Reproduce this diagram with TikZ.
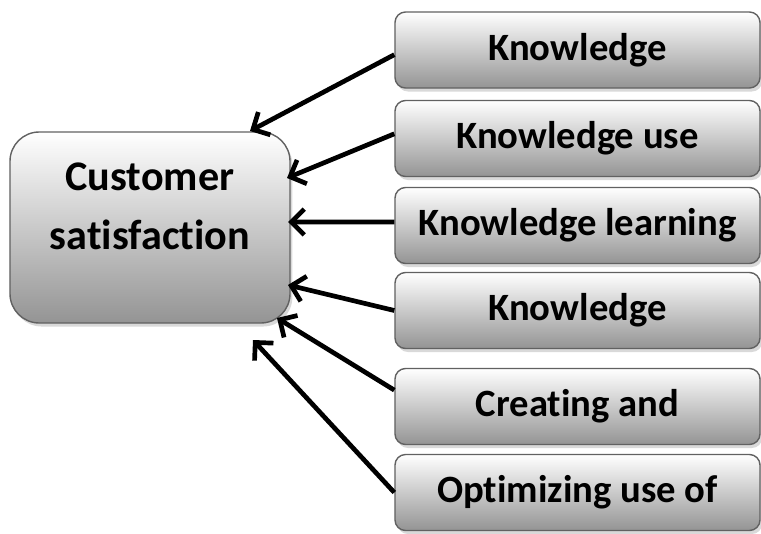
\documentclass[tikz,border=0pt]{standalone}
\usepackage{fontspec}
\setmainfont[Ligatures=NoCommon]{Carlito}
\usetikzlibrary{arrows.meta,shadows}

\begin{document}
\begin{tikzpicture}[x=0.03cm,y=-0.03cm]
\tikzstyle{every node}+=[inner sep=0pt, align=center]
\tikzstyle{box}=[draw=black!62, line width=1.2pt, top color=white, bottom color=black!42,
  drop shadow={shadow xshift=2pt, shadow yshift=-3pt, opacity=0.3}]
\tikzstyle{cause}=[box, rounded corners=9pt, minimum width=10.95cm, minimum height=2.28cm,
  font=\fontsize{33}{40}\selectfont\bfseries]
\tikzstyle{effect}=[box, rounded corners=25pt, minimum width=8.4cm, minimum height=5.73cm,
  text depth=36pt, font=\fontsize{36}{50}\selectfont\bfseries]
\tikzstyle{link}=[line width=4pt, -{Straight Barb[length=11pt, width=22pt]}]
\useasboundingbox (0,0) rectangle (761,533);

\node[effect] (sat) at (150,227.5) {Customer\\satisfaction};

\node[cause] (kn) at (577.5,50) {Knowledge};
\node[cause] (kuse) at (577.5,138.5) {Knowledge use};
\node[cause] (klearn) at (577.5,225.5) {Knowledge learning};
\node[cause] (kn2) at (577.5,310.5) {Knowledge};
\node[cause] (create) at (577.5,406.5) {Creating and};
\node[cause] (optim) at (577.5,492.5) {Optimizing use of};

\coordinate (t1) at (250,131);
\coordinate (t2) at (287,178);
\coordinate (t3) at (288,222);
\coordinate (t4) at (288,285);
\coordinate (t5) at (277,318);
\coordinate (t6) at (253,340);

\draw[link] ([yshift=-4pt]kn.west) -- (t1);
\draw[link] ([yshift=4pt]kuse.west) -- (t2);
\draw[link] ([yshift=3pt]klearn.west) -- (t3);
\draw[link] (kn2.west) -- (t4);
\draw[link] ([yshift=14pt]create.west) -- (t5);
\draw[link] (optim.west) -- (t6);
\end{tikzpicture}
\end{document}
